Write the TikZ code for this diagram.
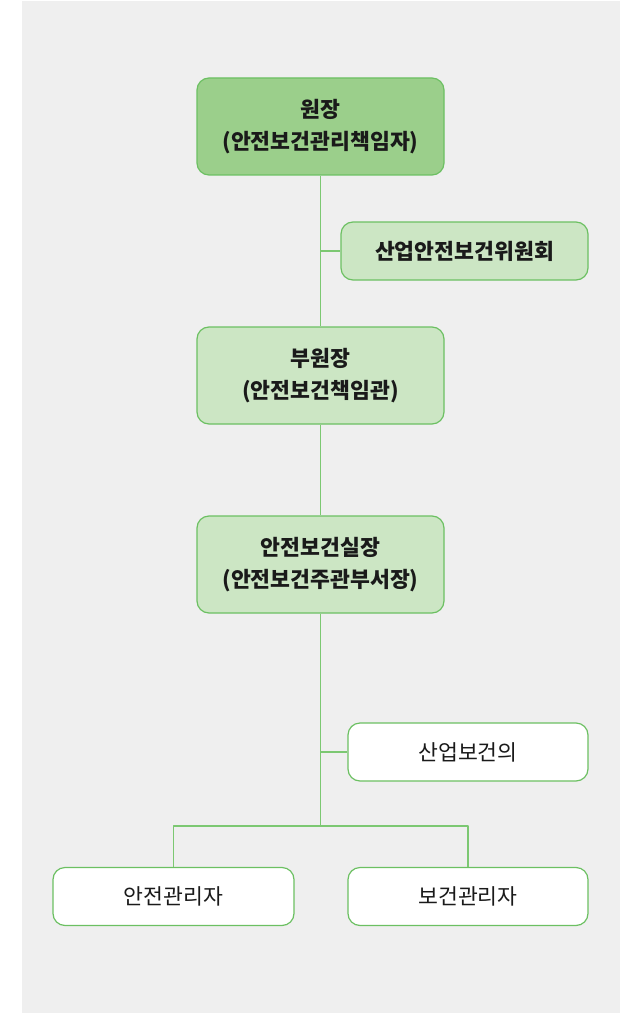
\documentclass[tikz,border=0pt]{standalone}
\usepackage{fontspec}
\setmainfont{Noto Sans CJK KR}
\definecolor{ink}{HTML}{1A1A1A}
\definecolor{panel}{HTML}{EFEFEF}
\definecolor{rim}{HTML}{6CC062}
\definecolor{wire}{HTML}{7CC872}
\definecolor{headfill}{HTML}{9BCF8B}
\definecolor{softfill}{HTML}{CCE6C4}
\newcommand{\figfontsize}{\fontsize{16.2}{24}\selectfont}
\tikzset{
  every picture/.style = {font=\figfontsize, line join=round},
  edge/.style          = {line width=0.9pt},
  box/.style           = {draw=rim, line width=0.9pt, rounded corners=9pt,
                          text=ink, align=center, inner sep=0pt},
  headbox/.style       = {box, fill=headfill, font=\figfontsize\bfseries},
  softbox/.style       = {box, fill=softfill, font=\figfontsize\bfseries},
  plainbox/.style      = {box, fill=white},
}

\begin{document}
\begin{tikzpicture}[x=0.75pt, y=-0.75pt]
  % page frame: white margin on the left, grey panel behind the chart
  \useasboundingbox (0,0) rectangle (636,1013);
  \fill[panel] (22,1) rectangle (620,1013);

  % --- main chain -----------------------------------------------------------
  \node[headbox, minimum width=185.25pt, minimum height=72.75pt]
    (chief) at (320.5,126.5) {원장\\(안전보건관리책임자)};
  \node[softbox, minimum width=185.25pt, minimum height=43.5pt]
    (cmte) at (464.5,251) {산업안전보건위원회};
  \node[softbox, minimum width=185.25pt, minimum height=72.75pt]
    (vice) at (320.5,375.5) {부원장\\(안전보건책임관)};
  \node[softbox, minimum width=185.25pt, minimum height=72.75pt]
    (office) at (320.5,564.5) {안전보건실장\\(안전보건주관부서장)};

  % --- staff under the office -------------------------------------------------
  \node[plainbox, minimum width=180pt, minimum height=43.5pt]
    (doctor) at (468,752) {산업보건의};
  \node[plainbox, minimum width=180.75pt, minimum height=43.5pt]
    (safemgr) at (173.5,896.5) {안전관리자};
  \node[plainbox, minimum width=180pt, minimum height=43.5pt]
    (healthmgr) at (468,896.5) {보건관리자};
  \coordinate (split) at (320.5,826);

  % --- connectors ---------------------------------------------------------------
  \draw[wire, edge] (chief.south) -- (vice.north);
  \draw[wire, edge] (chief.south |- cmte.west) -- (cmte.west);
  \draw[wire, edge] (vice.south) -- (office.north);
  \draw[wire, edge] (office.south) -- (split);
  \draw[wire, edge] (office.south |- doctor.west) -- (doctor.west);
  \draw[wire, edge] (safemgr.north) |- (split) -| (healthmgr.north);
\end{tikzpicture}
\end{document}
